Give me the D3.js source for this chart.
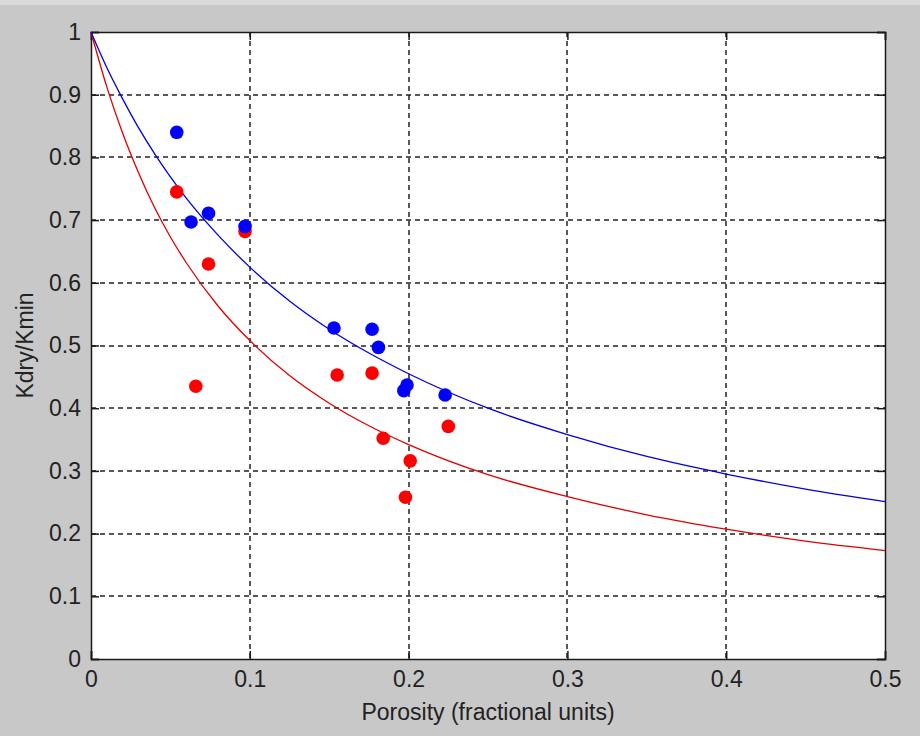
<!DOCTYPE html>
<head>
  <meta charset="utf-8">
  <script src="https://d3js.org/d3.v7.min.js"></script>
  <style>
    body { margin:0; background:#c8c8c8; }
    text { font-family:"Liberation Sans", Arial, sans-serif; fill:#222; }
  </style>
</head>

<body>
  <script>
    var width = 920,
        height = 736;

    // measured points (porosity, Kdry/Kmin)
    var bluePhi = [0.054, 0.063, 0.074, 0.097, 0.153, 0.177, 0.181, 0.199, 0.197, 0.223];
    var blueK   = [0.840, 0.697, 0.711, 0.690, 0.528, 0.526, 0.497, 0.437, 0.428, 0.421];
    var redPhi  = [0.054, 0.066, 0.074, 0.097, 0.155, 0.177, 0.184, 0.201, 0.198, 0.225];
    var redK    = [0.745, 0.435, 0.630, 0.682, 0.453, 0.456, 0.352, 0.316, 0.258, 0.371];

    // model curves
    var curvePhi = [0, 0.01, 0.02, 0.03, 0.04, 0.05, 0.06, 0.08, 0.1, 0.125, 0.15, 0.175, 0.2, 0.25, 0.3, 0.35, 0.4, 0.45, 0.5];
    var blueCurve = [1, 0.943, 0.893, 0.847, 0.806, 0.769, 0.735, 0.676, 0.625, 0.571, 0.526, 0.488, 0.455, 0.400, 0.358, 0.323, 0.295, 0.271, 0.251];
    var redCurve  = [1, 0.912, 0.838, 0.775, 0.720, 0.673, 0.632, 0.563, 0.508, 0.452, 0.408, 0.372, 0.342, 0.294, 0.259, 0.230, 0.207, 0.188, 0.173];

    var xTicks = [0, 0.1, 0.2, 0.3, 0.4, 0.5];
    var yTicks = [0, 0.1, 0.2, 0.3, 0.4, 0.5, 0.6, 0.7, 0.8, 0.9, 1];

    var svg = d3.select("body").append("svg")
      .attr("width", width)
      .attr("height", height)

    svg.append('rect')
      .attr('width', width).attr('height', 5)
      .attr('fill', '#dadada')

    var pLeft = 91, pRight = 885, pTop = 32, pBottom = 659;

    var xScale = d3.scaleLinear().domain([0, 0.5]).range([pLeft, pRight]);
    var yScale = d3.scaleLinear().domain([0, 1]).range([pBottom, pTop]);

    //plot area
    svg.append('rect')
      .attr('x', pLeft).attr('y', pTop)
      .attr('width', pRight - pLeft).attr('height', pBottom - pTop)
      .attr('fill', '#fff')

    //grid
    var grid = svg.append('g')
      .attr('stroke', '#222')
      .attr('stroke-width', 1.5)
      .attr('stroke-dasharray', '5,4')
    grid.selectAll('.gx')
      .data(xTicks.slice(1, -1))
      .enter().append('line')
      .attr('x1', function(d) { return Math.round(xScale(d)) })
      .attr('x2', function(d) { return Math.round(xScale(d)) })
      .attr('y1', pTop).attr('y2', pBottom)
    grid.selectAll('.gy')
      .data(yTicks.slice(1, -1))
      .enter().append('line')
      .attr('y1', function(d) { return Math.round(yScale(d)) })
      .attr('y2', function(d) { return Math.round(yScale(d)) })
      .attr('x1', pLeft).attr('x2', pRight)

    //axes with inward ticks, box on
    var tk = 8;
    var fmt = function(d) { return d3.format('')(d) };
    var xAxis = d3.axisBottom(xScale).tickValues(xTicks).tickSize(-tk).tickPadding(12).tickFormat(fmt);
    var xAxisTop = d3.axisTop(xScale).tickValues(xTicks).tickSize(-tk).tickFormat('');
    var yAxis = d3.axisLeft(yScale).tickValues(yTicks).tickSize(-tk).tickPadding(10).tickFormat(fmt);
    var yAxisRight = d3.axisRight(yScale).tickValues(yTicks).tickSize(-tk).tickFormat('');

    function style(g) {
      g.select('.domain').attr('stroke', '#1a1a1a').attr('stroke-width', 1.5);
      g.selectAll('.tick line').attr('stroke', '#1a1a1a').attr('stroke-width', 1.5);
      g.selectAll('.tick text')
        .style('font-family', '"Liberation Sans", Arial, sans-serif')
        .attr('font-size', 23).attr('fill', '#222');
    }

    svg.append('g').attr('transform', 'translate(0,' + pBottom + ')').call(xAxis).call(style)
    svg.append('g').attr('transform', 'translate(0,' + pTop + ')').call(xAxisTop).call(style)
    svg.append('g').attr('transform', 'translate(' + pLeft + ',0)').call(yAxis).call(style)
    svg.append('g').attr('transform', 'translate(' + pRight + ',0)').call(yAxisRight).call(style)

    //curves
    var line = d3.line()
      .x(function(d) { return xScale(d[0]) })
      .y(function(d) { return yScale(d[1]) })
      .curve(d3.curveMonotoneX);

    svg.append('path')
      .datum(d3.zip(curvePhi, redCurve))
      .attr('d', line)
      .attr('fill', 'none').attr('stroke', '#e00000').attr('stroke-width', 1.3)
    svg.append('path')
      .datum(d3.zip(curvePhi, blueCurve))
      .attr('d', line)
      .attr('fill', 'none').attr('stroke', '#0000e0').attr('stroke-width', 1.3)

    //points
    svg.append('g').selectAll('circle')
      .data(d3.zip(redPhi, redK))
      .enter().append('circle')
      .attr('r', 6.8)
      .attr('cx', function(d) { return xScale(d[0]) })
      .attr('cy', function(d) { return yScale(d[1]) })
      .attr('fill', '#ff0000')
    svg.append('g').selectAll('circle')
      .data(d3.zip(bluePhi, blueK))
      .enter().append('circle')
      .attr('r', 6.8)
      .attr('cx', function(d) { return xScale(d[0]) })
      .attr('cy', function(d) { return yScale(d[1]) })
      .attr('fill', '#0000ff')

    //labels
    svg.append('text')
      .attr('x', (pLeft + pRight) / 2).attr('y', 720)
      .attr('text-anchor', 'middle')
      .attr('font-size', 23)
      .text('Porosity (fractional units)')
    svg.append('text')
      .attr('transform', 'translate(33,' + (pTop + pBottom) / 2 + ') rotate(-90)')
      .attr('text-anchor', 'middle')
      .attr('font-size', 23)
      .text('Kdry/Kmin')
  </script>
</body>
